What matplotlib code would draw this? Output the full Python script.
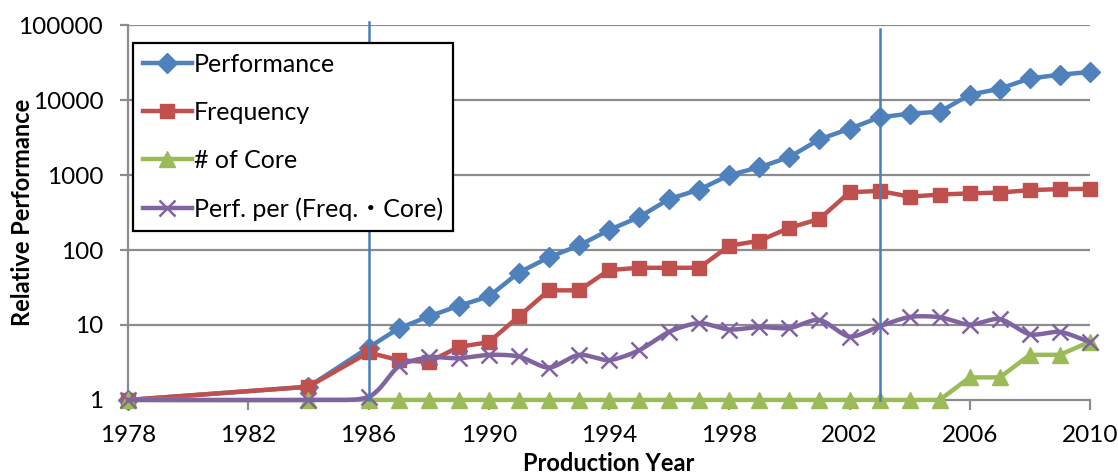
import numpy as np
import matplotlib
matplotlib.use("Agg")
import matplotlib.pyplot as plt
from matplotlib.lines import Line2D

# Production years (only 1978 and 1984 before the yearly series)
years = [1978, 1984] + list(range(1986, 2011))

performance = [1, 1.5, 5, 9, 13, 18, 24, 50, 80, 115, 185, 275, 480, 640, 1000,
               1270, 1740, 3000, 4150, 5900, 6600, 7000, 11800, 14200, 19500,
               21800, 23800]
frequency = [1, 1.5, 4.3, 3.4, 3.2, 5.1, 5.9, 13, 29, 29, 54, 58, 58, 58, 114,
             133, 198, 260, 590, 615, 515, 550, 570, 585, 630, 650, 655]
cores = [1, 1, 1, 1, 1, 1, 1, 1, 1, 1, 1, 1, 1, 1, 1, 1, 1, 1, 1, 1, 1, 1,
         2, 2, 4, 4, 6]
perf_per = [1, 1, 1.1, 2.8, 3.7, 3.6, 4.0, 3.8, 2.7, 4.0, 3.4, 4.6, 8.1, 10.6,
            8.7, 9.4, 9.1, 11.7, 7.0, 9.6, 12.8, 12.7, 10.1, 12.0, 7.5, 8.1, 5.9]

series_names = ["Performance", "Frequency", "# of Core",
                "Perf. per (Freq.\u30fbCore)"]
x_ticks = [1978, 1982, 1986, 1990, 1994, 1998, 2002, 2006, 2010]
y_ticks = [1, 10, 100, 1000, 10000, 100000]
marker_years = [1986, 2003]

BLUE = "#4F81BD"
RED = "#C0504D"
GREEN = "#9BBB59"
PURPLE = "#8064A2"
GRID = "#8C8C8C"

plt.rcParams["font.family"] = ["Lato", "Noto Sans CJK JP", "DejaVu Sans"]


def smooth(xs, ys, n=24, k=0.8):
    """Cardinal curve through the points, computed in (x, log10 y)."""
    xs = np.asarray(xs, float)
    ls = np.log10(np.asarray(ys, float))
    px = np.concatenate([[2 * xs[0] - xs[1]], xs, [2 * xs[-1] - xs[-2]]])
    pl = np.concatenate([[2 * ls[0] - ls[1]], ls, [2 * ls[-1] - ls[-2]]])
    ox, oy = [], []
    t = np.linspace(0, 1, n, endpoint=False)
    h00 = 2 * t ** 3 - 3 * t ** 2 + 1
    h10 = t ** 3 - 2 * t ** 2 + t
    h01 = -2 * t ** 3 + 3 * t ** 2
    h11 = t ** 3 - t ** 2
    for i in range(1, len(px) - 2):
        for p, out in ((px, ox), (pl, oy)):
            p0, p1, p2, p3 = p[i - 1], p[i], p[i + 1], p[i + 2]
            m1 = k * (p2 - p0) / 2
            m2 = k * (p3 - p1) / 2
            out.extend(h00 * p1 + h10 * m1 + h01 * p2 + h11 * m2)
    ox.append(xs[-1])
    oy.append(ls[-1])
    return np.array(ox), 10 ** np.array(oy)


fig = plt.figure(figsize=(11.18, 4.75), dpi=100)
ax = fig.add_axes([0.1145, 0.158, 0.8605, 0.789])

ax.set_yscale("log")
ax.set_xlim(1978, 2010)
ax.set_ylim(1, 100000)

for v in y_ticks[1:]:
    ax.axhline(v, color=GRID, lw=1.6, zorder=1)

lw = 3.2
ax.plot(years, performance, color=BLUE, lw=lw, marker="D", ms=10,
        clip_on=False, zorder=3)
ax.plot(years, frequency, color=RED, lw=lw, marker="s", ms=10.5,
        clip_on=False, zorder=4)
ax.plot(years, cores, color=GREEN, lw=lw, marker="^", ms=11.5,
        clip_on=False, zorder=5)
sx, sy = smooth(years, perf_per)
ax.plot(sx, sy, color=PURPLE, lw=lw, clip_on=False, zorder=6)
ax.plot(years, perf_per, ls="none", marker="x", ms=11, mew=1.8,
        color=PURPLE, clip_on=False, zorder=6)

for yr in marker_years:
    ax.plot([yr, yr], [1, 10 ** 5.04 if yr == marker_years[0] else 10 ** 4.95],
            color="#4A7EBB", lw=1.8, zorder=7, clip_on=False)

ax.set_xticks(x_ticks)
ax.set_xticklabels([str(v) for v in x_ticks])
ax.set_yticks(y_ticks)
ax.set_yticklabels([str(v) for v in y_ticks])
ax.yaxis.set_minor_locator(matplotlib.ticker.NullLocator())
ax.tick_params(axis="both", which="major", labelsize=17.5, color=GRID,
               width=1.6, direction="out")
ax.tick_params(axis="y", length=5.8, pad=12)
ax.tick_params(axis="x", length=7.2, pad=11)

for side in ("top", "right"):
    ax.spines[side].set_visible(False)
for side in ("left", "bottom"):
    ax.spines[side].set_color(GRID)
    ax.spines[side].set_linewidth(1.6)
ax.spines["left"].set_zorder(2)

ax.set_xlabel("Production Year", fontsize=17, fontweight="bold")
ax.set_ylabel("Relative Performance", fontsize=17, fontweight="bold")
ax.xaxis.label.set_verticalalignment("center")
ax.yaxis.label.set_verticalalignment("center")
ax.xaxis.set_label_coords(0.5, -0.170)
ax.yaxis.set_label_coords(-0.110, 0.5)

handles = [
    Line2D([], [], color=BLUE, lw=lw, marker="D", ms=10),
    Line2D([], [], color=RED, lw=lw, marker="s", ms=10.5),
    Line2D([], [], color=GREEN, lw=lw, marker="^", ms=11.5),
    Line2D([], [], color=PURPLE, lw=lw, marker="x", ms=11, mew=1.8),
]
leg = ax.legend(handles, series_names, loc="upper left",
                bbox_to_anchor=(0.005, 0.952), borderaxespad=0,
                fontsize=18, frameon=True, fancybox=False,
                edgecolor="black", framealpha=1, handlelength=1.95,
                handletextpad=0.08, labelspacing=1.0, borderpad=0.4)
leg.get_frame().set_linewidth(1.6)
leg.set_zorder(10)

fig.savefig("out.png", dpi=100)
